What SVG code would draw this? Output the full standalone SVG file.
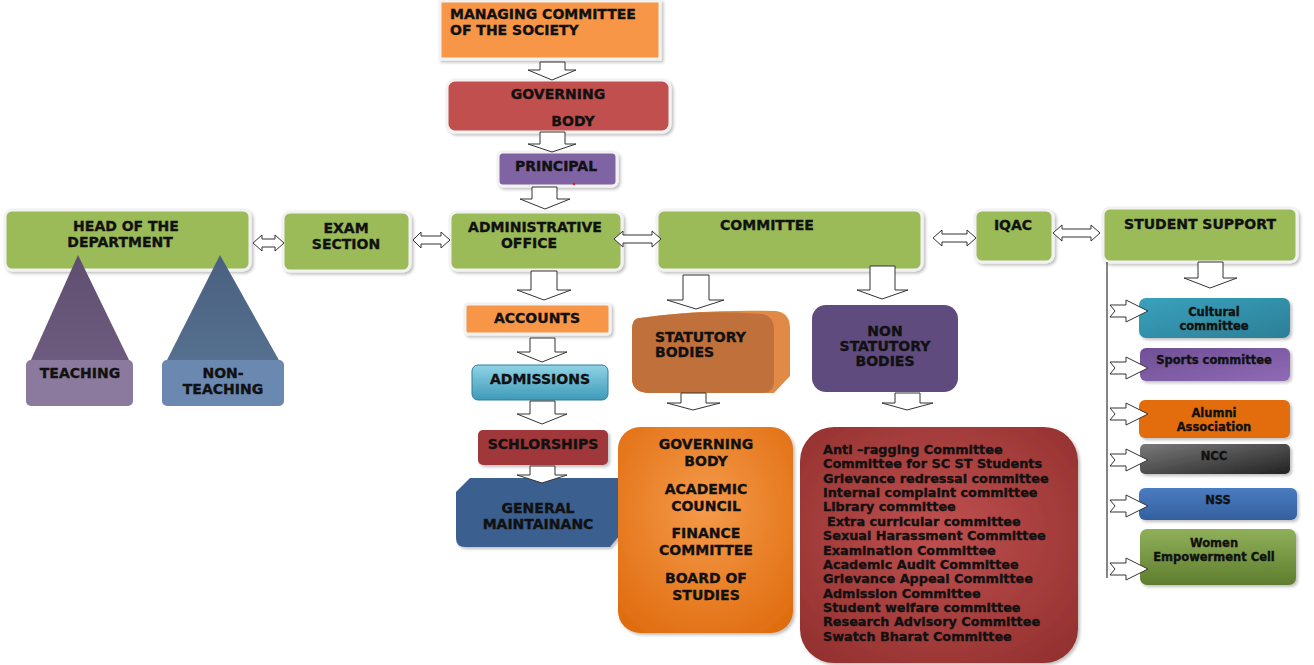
<svg xmlns="http://www.w3.org/2000/svg" width="1314" height="665" viewBox="0 0 1314 665">
<style>
.t{font-family:"DejaVu Sans","Liberation Sans",sans-serif;font-weight:bold;fill:#111;stroke:#111;stroke-width:0.35;font-size:14px}
.tc{text-anchor:middle}
.s{font-size:11.5px}
.l{font-size:12.8px}
.box{stroke:#f2f2f2;stroke-width:3;filter:url(#sh)}
.arr{fill:#fff;stroke:#333;stroke-width:1}
</style>
<defs>
<filter id="sh" x="-10%" y="-10%" width="130%" height="140%">
<feDropShadow dx="2" dy="2" stdDeviation="1.5" flood-color="#000" flood-opacity="0.25"/>
</filter>
<linearGradient id="gAdm" x1="0" y1="0" x2="0" y2="1"><stop offset="0" stop-color="#8fd3e6"/><stop offset="1" stop-color="#3e9ab8"/></linearGradient>
<radialGradient id="gOr" cx="0.5" cy="0.4" r="0.7"><stop offset="0" stop-color="#f59a4a"/><stop offset="1" stop-color="#e06d10"/></radialGradient>
<radialGradient id="gRed" cx="0.5" cy="0.45" r="0.7"><stop offset="0" stop-color="#c05050"/><stop offset="1" stop-color="#92302e"/></radialGradient>
<linearGradient id="gNcc" x1="0" y1="0" x2="1" y2="1"><stop offset="0" stop-color="#7a7a7a"/><stop offset="1" stop-color="#222"/></linearGradient>
<linearGradient id="gCul" x1="0" y1="0" x2="1" y2="1"><stop offset="0" stop-color="#3aa1bd"/><stop offset="1" stop-color="#2b7f96"/></linearGradient>
<linearGradient id="gSp" x1="0" y1="0" x2="1" y2="1"><stop offset="0" stop-color="#6f4f96"/><stop offset="1" stop-color="#8f6bb5"/></linearGradient>
<linearGradient id="gWom" x1="0" y1="0" x2="0" y2="1"><stop offset="0" stop-color="#8fb05a"/><stop offset="1" stop-color="#5f7d2e"/></linearGradient>
<linearGradient id="gNss" x1="0" y1="0" x2="0" y2="1"><stop offset="0" stop-color="#4a7cc0"/><stop offset="1" stop-color="#33609e"/></linearGradient>
<linearGradient id="gTri1" x1="0" y1="0" x2="0" y2="1"><stop offset="0" stop-color="#5e4e6e"/><stop offset="1" stop-color="#6e5c80"/></linearGradient>
<linearGradient id="gTri2" x1="0" y1="0" x2="0" y2="1"><stop offset="0" stop-color="#4a6080"/><stop offset="1" stop-color="#56708f"/></linearGradient>
</defs>

<g id="managing">
<rect class="box" x="440" y="1" width="220" height="58" fill="#f79646"/>
<text class="t" x="450" y="19">MANAGING COMMITTEE</text>
<text class="t" x="450" y="35">OF THE SOCIETY</text>
</g>
<g id="governing">
<rect class="box" x="447" y="80" width="223" height="52" rx="8" fill="#c0504d"/>
<text class="t tc" x="558" y="99">GOVERNING</text>
<text class="t tc" x="573" y="126">BODY</text>
</g>
<g id="principal">
<rect class="box" x="498" y="152" width="119" height="34" rx="5" fill="#8064a2"/>
<text class="t tc" x="556" y="171">PRINCIPAL</text>
<circle cx="574" cy="184" r="1.3" fill="#e02020"/>
</g>

<g id="hod">
<rect class="box" x="5" y="210" width="245" height="60" rx="7" fill="#9bbb59"/>
<text class="t tc" x="126" y="231">HEAD OF THE</text>
<text class="t tc" x="120" y="247">DEPARTMENT</text>
</g>
<g id="teaching">
<path d="M78,255 L30,362 H130 Z" fill="url(#gTri1)"/>
<rect x="26" y="360" width="107" height="46" rx="5" fill="#8b7a9e"/>
<text class="t tc" x="80" y="378">TEACHING</text>
</g>
<g id="nonteaching">
<path d="M220,255 L166,362 H280 Z" fill="url(#gTri2)"/>
<rect x="162" y="360" width="122" height="46" rx="5" fill="#6a88b0"/>
<text class="t tc" x="223" y="378">NON-</text>
<text class="t tc" x="223" y="394">TEACHING</text>
</g>
<g id="exam">
<rect class="box" x="283" y="212" width="127" height="59" rx="7" fill="#9bbb59"/>
<text class="t tc" x="346" y="233">EXAM</text>
<text class="t tc" x="346" y="249">SECTION</text>
</g>
<g id="admin">
<rect class="box" x="450" y="212" width="172" height="58" rx="7" fill="#9bbb59"/>
<text class="t tc" x="535" y="232">ADMINISTRATIVE</text>
<text class="t tc" x="529" y="248">OFFICE</text>
</g>
<g id="committee">
<rect class="box" x="657" y="210" width="265" height="60" rx="7" fill="#9bbb59"/>
<text class="t tc" x="767" y="230">COMMITTEE</text>
</g>
<g id="iqac">
<rect class="box" x="975" y="210" width="78" height="52" rx="7" fill="#9bbb59"/>
<text class="t tc" x="1013" y="230">IQAC</text>
</g>
<g id="studentsupport">
<rect class="box" x="1103" y="208" width="194" height="54" rx="7" fill="#9bbb59"/>
<text class="t tc" x="1200" y="229">STUDENT SUPPORT</text>
</g>

<g id="accounts">
<rect class="box" x="465" y="304" width="145" height="30" rx="3" fill="#f79646"/>
<text class="t tc" x="537" y="323">ACCOUNTS</text>
</g>
<g id="admissions">
<rect x="472" y="365" width="136" height="35" rx="6" fill="url(#gAdm)" stroke="#2f7c96" stroke-width="1"/>
<text class="t tc" x="540" y="384">ADMISSIONS</text>
</g>
<g id="scholarships">
<rect x="478" y="430" width="130" height="35" rx="5" fill="#a0393a" filter="url(#sh)"/>
<text class="t tc" x="543" y="449">SCHLORSHIPS</text>
</g>
<g id="maintenance">
<path d="M470,478 H620 V535 L610,547 H465 Q456,547 456,538 V492 Z" fill="#3a5f8f" filter="url(#sh)"/>
<text class="t tc" x="538" y="513">GENERAL</text>
<text class="t tc" x="538" y="529">MAINTAINANC</text>
</g>

<g id="statutory">
<path d="M640,318 Q700,309 776,311 Q790,313 790,328 V376 L774,393 H650 Q632,393 632,378 V330 Q632,318 640,318 Z" fill="#e08a45"/>
<path d="M640,318 Q700,309 762,314 Q774,316 774,330 V380 Q774,393 762,393 H650 Q632,393 632,378 V330 Q632,318 640,318 Z" fill="#c0703a"/>
<text class="t" x="655" y="342">STATUTORY</text>
<text class="t" x="655" y="357">BODIES</text>
</g>
<g id="nonstatutory">
<rect x="812" y="305" width="146" height="87" rx="14" fill="#5f4b7e"/>
<text class="t tc" x="885" y="336">NON</text>
<text class="t tc" x="885" y="351">STATUTORY</text>
<text class="t tc" x="885" y="366">BODIES</text>
</g>

<g id="statutorylist">
<rect x="618" y="427" width="175" height="206" rx="22" fill="url(#gOr)" filter="url(#sh)"/>
<text class="t tc" x="706" y="449">GOVERNING</text>
<text class="t tc" x="706" y="466">BODY</text>
<text class="t tc" x="706" y="494">ACADEMIC</text>
<text class="t tc" x="706" y="511">COUNCIL</text>
<text class="t tc" x="706" y="538">FINANCE</text>
<text class="t tc" x="706" y="555">COMMITTEE</text>
<text class="t tc" x="706" y="583">BOARD OF</text>
<text class="t tc" x="706" y="600">STUDIES</text>
</g>
<g id="nonstatutorylist">
<rect x="800" y="427" width="278" height="236" rx="34" fill="url(#gRed)" filter="url(#sh)"/>
<text class="t l" x="823" y="454">Anti –ragging Committee</text>
<text class="t l" x="823" y="468">Committee for SC ST Students</text>
<text class="t l" x="823" y="483">Grievance redressal committee</text>
<text class="t l" x="823" y="497">Internal complaint committee</text>
<text class="t l" x="823" y="511">Library committee</text>
<text class="t l" x="827" y="526">Extra curricular committee</text>
<text class="t l" x="823" y="540">Sexual Harassment Committee</text>
<text class="t l" x="823" y="555">Examination Committee</text>
<text class="t l" x="823" y="569">Academic Audit Committee</text>
<text class="t l" x="823" y="583">Grievance Appeal Committee</text>
<text class="t l" x="823" y="598">Admission Committee</text>
<text class="t l" x="823" y="612">Student welfare committee</text>
<text class="t l" x="823" y="626">Research Advisory Committee</text>
<text class="t l" x="823" y="641">Swatch Bharat Committee</text>
</g>

<g id="cultural">
<rect x="1139" y="298" width="151" height="40" rx="7" fill="url(#gCul)" filter="url(#sh)"/>
<text class="t tc s" x="1214" y="316">Cultural</text>
<text class="t tc s" x="1214" y="330">committee</text>
</g>
<g id="sports">
<rect x="1140" y="348" width="150" height="33" rx="6" fill="url(#gSp)" filter="url(#sh)"/>
<text class="t tc s" x="1214" y="364">Sports committee</text>
</g>
<g id="alumni">
<rect x="1139" y="400" width="151" height="38" rx="6" fill="#e36c0a" filter="url(#sh)"/>
<text class="t tc s" x="1214" y="417">Alumni</text>
<text class="t tc s" x="1214" y="431">Association</text>
</g>
<g id="ncc">
<rect x="1140" y="444" width="150" height="30" rx="5" fill="url(#gNcc)" filter="url(#sh)"/>
<text class="t tc s" x="1214" y="460">NCC</text>
</g>
<g id="nss">
<rect x="1139" y="488" width="158" height="32" rx="6" fill="url(#gNss)" filter="url(#sh)"/>
<text class="t tc s" x="1218" y="504">NSS</text>
</g>
<g id="women">
<rect x="1140" y="529" width="156" height="56" rx="7" fill="url(#gWom)" filter="url(#sh)"/>
<text class="t tc s" x="1214" y="547">Women</text>
<text class="t tc s" x="1214" y="561">Empowerment Cell</text>
</g>

<g id="connectors">
<path class="arr" d="M540,62 H565 V70 H576 L552,80 L528,70 H540 Z"/>
<path class="arr" d="M540,132 H565 V144 H576 L552,152 L528,144 H540 Z"/>
<path class="arr" d="M532,187 H557 V199 H570 L545,209 L520,199 H532 Z"/>
<path class="arr" d="M531,271 H557 V290 H571 L544,300 L517,290 H531 Z"/>
<path class="arr" d="M530,338 H555 V352 H567 L542,362 L517,352 H530 Z"/>
<path class="arr" d="M530,401 H555 V414 H567 L542,424 L517,414 H530 Z"/>
<path class="arr" d="M530,466 H555 V475 H567 L542,483 L517,475 H530 Z"/>
<path class="arr" d="M683,275 H709 V300 H724 L696,309 L667,300 H683 Z"/>
<path class="arr" d="M870,266 H895 V290 H908 L882,299 L857,290 H870 Z"/>
<path class="arr" d="M681,393 H706 V403 H720 L693,410 L667,403 H681 Z"/>
<path class="arr" d="M895,393 H920 V403 H933 L907,410 L882,403 H895 Z"/>
<path class="arr" d="M1198,262 H1223 V278 H1237 L1210,288 L1184,278 H1198 Z"/>
<path class="arr" d="M253,243 L262,235 V239 H275 V235 L284,243 L275,251 V247 H262 V251 Z"/>
<path class="arr" d="M413,240 L421,232 V236 H441 V232 L450,240 L441,248 V244 H421 V248 Z"/>
<path class="arr" d="M614,239 L623,231 V235 H652 V231 L661,239 L652,247 V243 H623 V247 Z"/>
<path class="arr" d="M933,238 L942,230 V234 H967 V230 L976,238 L967,246 V242 H942 V246 Z"/>
<path class="arr" d="M1053,233 L1062,225 V229 H1091 V225 L1100,233 L1091,241 V237 H1062 V241 Z"/>
<line x1="1107" y1="262" x2="1107" y2="578" stroke="#333" stroke-width="1.2"/>
<path class="arr" d="M1110,305 H1126 V300 L1148,311 L1126,322 V317 H1110 L1115,311 Z"/>
<path class="arr" d="M1110,362 H1126 V357 L1148,368 L1126,379 V374 H1110 L1115,368 Z"/>
<path class="arr" d="M1110,408 H1126 V403 L1148,414 L1126,425 V420 H1110 L1115,414 Z"/>
<path class="arr" d="M1110,454 H1126 V449 L1148,460 L1126,471 V466 H1110 L1115,460 Z"/>
<path class="arr" d="M1110,500 H1126 V495 L1148,506 L1126,517 V512 H1110 L1115,506 Z"/>
<path class="arr" d="M1110,563 H1126 V558 L1148,569 L1126,580 V575 H1110 L1115,569 Z"/>
</g>
</svg>
